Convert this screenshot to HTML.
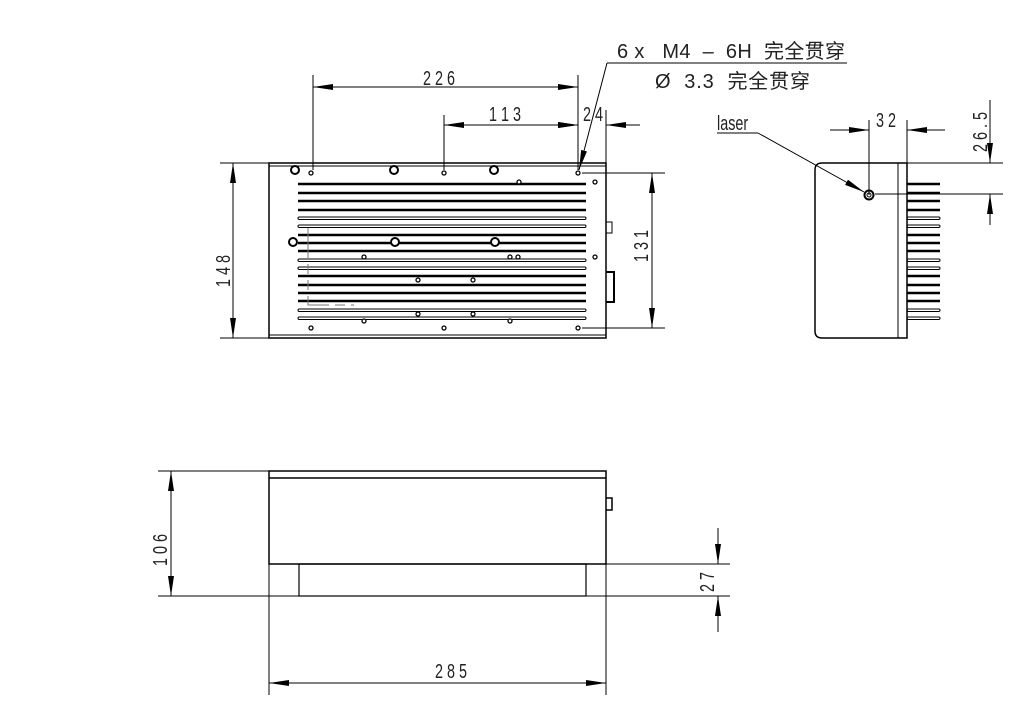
<!DOCTYPE html>
<html><head><meta charset="utf-8"><style>
html,body{margin:0;padding:0;background:#fff;width:1033px;height:708px;overflow:hidden}
svg{display:block}
text{font-family:"Liberation Sans","Noto Sans CJK SC",sans-serif;fill:#222;white-space:pre}
</style></head><body>
<svg width="1033" height="708" viewBox="0 0 1033 708" xmlns="http://www.w3.org/2000/svg">
<defs>
<marker id="a" viewBox="0 0 20 6" refX="20" refY="3" markerWidth="20" markerHeight="6" markerUnits="userSpaceOnUse" orient="auto-start-reverse"><path d="M0,0 L20,3 L0,6 z" fill="#000"/></marker>
</defs>
<g stroke="#000" fill="none" stroke-width="1">
<rect x="269" y="163" width="337" height="175" stroke-width="1.5"/>
<line x1="269" y1="166" x2="606" y2="166"/>
<line x1="269" y1="335" x2="606" y2="335"/>
<path d="M606,222 h6 v11 h-6"/>
<path d="M606,272 h8 v30 h-8" stroke-width="2"/>
<g stroke-width="2.5">
<line x1="298" y1="184" x2="586" y2="184"/><line x1="298" y1="193" x2="586" y2="193"/>
<line x1="298" y1="201" x2="586" y2="201"/><line x1="298" y1="210" x2="586" y2="210"/>
<line x1="298" y1="235" x2="586" y2="235"/><line x1="298" y1="243" x2="586" y2="243"/>
<line x1="298" y1="251" x2="586" y2="251"/>
<line x1="298" y1="276" x2="586" y2="276"/><line x1="298" y1="285" x2="586" y2="285"/>
<line x1="298" y1="293" x2="586" y2="293"/><line x1="298" y1="301" x2="586" y2="301"/>
</g>
<g stroke-width="1">
<rect x="298" y="217" width="288" height="2.5" rx="1.2"/><rect x="298" y="225" width="288" height="2.5" rx="1.2"/>
<rect x="298" y="259" width="288" height="2.5" rx="1.2"/><rect x="298" y="267" width="288" height="2.5" rx="1.2"/>
<rect x="298" y="309" width="288" height="2.5" rx="1.2"/><rect x="298" y="317" width="288" height="2.5" rx="1.2"/>
</g>
<path d="M308,228 V305 H354" stroke-dasharray="30,6,10,6,10,6" stroke="#777"/>
<g fill="#fff" stroke-width="2">
<circle cx="295" cy="170" r="4"/><circle cx="394" cy="170" r="4"/><circle cx="494" cy="170" r="4"/>
<circle cx="293" cy="242" r="4"/><circle cx="395" cy="242" r="4"/><circle cx="495" cy="242" r="4"/>
</g>
<g fill="#fff" stroke-width="1.3">
<circle cx="311" cy="173" r="2"/><circle cx="444" cy="173" r="2"/><circle cx="578" cy="173" r="2"/>
<circle cx="519" cy="182" r="2"/><circle cx="595" cy="182" r="2"/><circle cx="595" cy="257" r="2"/>
<circle cx="364" cy="257" r="2"/><circle cx="510" cy="257" r="2"/><circle cx="518" cy="257" r="2"/>
<circle cx="418" cy="280" r="2"/><circle cx="473" cy="280" r="2"/>
<circle cx="418" cy="314" r="2"/><circle cx="473" cy="314" r="2"/>
<circle cx="364" cy="321" r="2"/><circle cx="510" cy="321" r="2"/>
<circle cx="311" cy="328" r="2"/><circle cx="444" cy="328" r="2"/><circle cx="578" cy="328" r="2"/>
</g>
<line x1="313" y1="75" x2="313" y2="170"/><line x1="578" y1="75" x2="578" y2="170"/>
<line x1="313" y1="87" x2="578" y2="87" marker-start="url(#a)" marker-end="url(#a)"/>
<line x1="444" y1="115" x2="444" y2="170"/>
<line x1="444" y1="125" x2="578" y2="125" marker-start="url(#a)" marker-end="url(#a)"/>
<line x1="606" y1="110" x2="606" y2="163"/>
<line x1="555" y1="125" x2="578" y2="125" marker-end="url(#a)"/>
<line x1="640" y1="125" x2="606" y2="125" marker-end="url(#a)"/>
<line x1="607" y1="63" x2="847" y2="63"/>
<line x1="607" y1="63" x2="579" y2="170" marker-end="url(#a)"/>
<line x1="220" y1="163" x2="269" y2="163"/><line x1="220" y1="338" x2="269" y2="338"/>
<line x1="233" y1="163" x2="233" y2="338" marker-start="url(#a)" marker-end="url(#a)"/>
<line x1="582" y1="173" x2="665" y2="173"/><line x1="582" y1="328" x2="665" y2="328"/>
<line x1="652" y1="173" x2="652" y2="328" marker-start="url(#a)" marker-end="url(#a)"/>
<path d="M907,163 H822 Q815,163 815,170 V331 Q815,338 822,338 H907 Z" stroke-width="1.5"/>
<line x1="898" y1="163" x2="898" y2="338"/>
<g stroke-width="2.5">
<line x1="907" y1="184" x2="940" y2="184"/><line x1="907" y1="193" x2="940" y2="193"/>
<line x1="907" y1="201" x2="940" y2="201"/><line x1="907" y1="210" x2="940" y2="210"/>
<line x1="907" y1="235" x2="940" y2="235"/><line x1="907" y1="243" x2="940" y2="243"/>
<line x1="907" y1="251" x2="940" y2="251"/>
<line x1="907" y1="276" x2="940" y2="276"/><line x1="907" y1="285" x2="940" y2="285"/>
<line x1="907" y1="293" x2="940" y2="293"/><line x1="907" y1="301" x2="940" y2="301"/>
</g>
<g stroke-width="1">
<rect x="907" y="217" width="33" height="2.5" rx="1.2"/><rect x="907" y="225" width="33" height="2.5" rx="1.2"/>
<rect x="907" y="259" width="33" height="2.5" rx="1.2"/><rect x="907" y="267" width="33" height="2.5" rx="1.2"/>
<rect x="907" y="309" width="33" height="2.5" rx="1.2"/><rect x="907" y="317" width="33" height="2.5" rx="1.2"/>
</g>
<circle cx="869" cy="195" r="4.5" stroke-width="2"/><circle cx="869" cy="195" r="2"/>
<line x1="869" y1="120" x2="869" y2="195"/><line x1="907" y1="120" x2="907" y2="163"/>
<line x1="830" y1="130" x2="869" y2="130" marker-end="url(#a)"/>
<line x1="945" y1="130" x2="907" y2="130" marker-end="url(#a)"/>
<line x1="907" y1="163" x2="1003" y2="163"/><line x1="875" y1="194" x2="1003" y2="194"/>
<line x1="990" y1="100" x2="990" y2="163" marker-end="url(#a)"/>
<line x1="990" y1="225" x2="990" y2="194" marker-end="url(#a)"/>
<line x1="717" y1="133" x2="758" y2="133"/>
<line x1="758" y1="133" x2="864" y2="192" marker-end="url(#a)"/>
<rect x="269" y="471" width="337" height="93" stroke-width="1.5"/>
<line x1="269" y1="478" x2="606" y2="478" stroke-width="1.5"/>
<rect x="299" y="564" width="287" height="32" stroke-width="1.2"/>
<path d="M606,498 h6 v12 h-6" stroke-width="1.5"/>
<line x1="158" y1="471" x2="269" y2="471"/><line x1="158" y1="596" x2="730" y2="596"/>
<line x1="171" y1="471" x2="171" y2="596" marker-start="url(#a)" marker-end="url(#a)"/>
<line x1="606" y1="564" x2="730" y2="564"/>
<line x1="718" y1="528" x2="718" y2="564" marker-end="url(#a)"/>
<line x1="718" y1="632" x2="718" y2="596" marker-end="url(#a)"/>
<line x1="269" y1="564" x2="269" y2="695"/><line x1="606" y1="564" x2="606" y2="695"/>
<line x1="269" y1="683" x2="606" y2="683" marker-start="url(#a)" marker-end="url(#a)"/>
</g>
<g font-size="20">
<text transform="translate(423,85) scale(0.72,1)">2 2 6</text>
<text transform="translate(489,121) scale(0.72,1)">1 1 3</text>
<text transform="translate(583,121) scale(0.72,1)">2 4</text>
<text x="617" y="58" textLength="228" lengthAdjust="spacing">6 x   M4  –  6H  完全贯穿</text>
<text x="655" y="88" textLength="155" lengthAdjust="spacing">Ø  3.3  完全贯穿</text>
<text transform="translate(717,130) scale(0.72,1)">laser</text>
<text transform="translate(876,127) scale(0.72,1)">3 2</text>
<text transform="translate(230,287) rotate(-90) scale(0.72,1)">1 4 8</text>
<text transform="translate(648,262) rotate(-90) scale(0.72,1)">1 3 1</text>
<text transform="translate(987,152) rotate(-90) scale(0.72,1)">2 6 . 5</text>
<text transform="translate(167,566) rotate(-90) scale(0.72,1)">1 0 6</text>
<text transform="translate(714,592) rotate(-90) scale(0.72,1)">2 7</text>
<text transform="translate(435,678) scale(0.72,1)">2 8 5</text>
</g>
</svg>
</body></html>
